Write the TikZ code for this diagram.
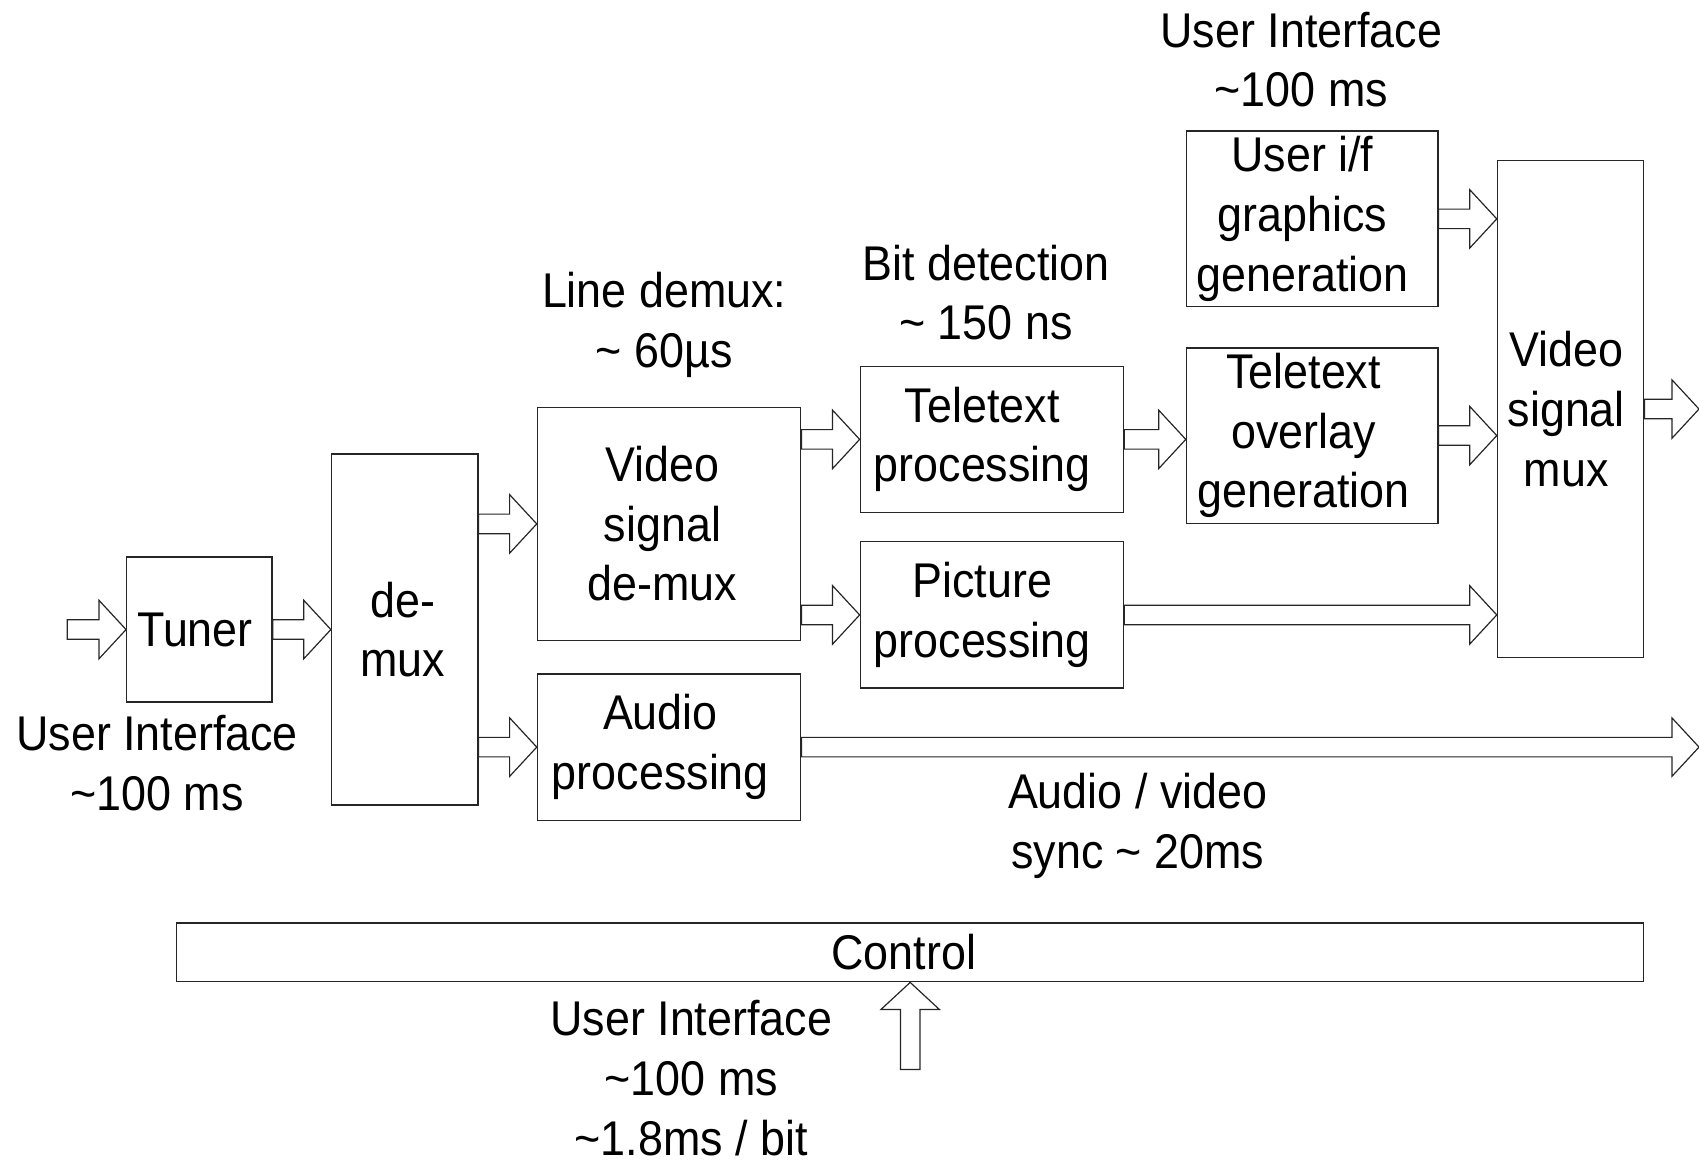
\documentclass[tikz,border=0pt]{standalone}
\usepackage{fontspec}
\setmainfont{Liberation Sans}[FakeStretch=0.92]
\usetikzlibrary{calc}

% hollow block arrow from #1 to #2
\newcommand{\fatarrow}[2]{%
  \coordinate (fh) at ($#2!25pt!#1$);
  \draw[fat] ($#1!9pt!90:#2$) -- ($(fh)!9pt!-90:#1$) -- ($(fh)!27pt!-90:#1$) -- #2
    -- ($(fh)!27pt!90:#1$) -- ($(fh)!9pt!90:#1$) -- ($#1!9pt!-90:#2$) -- cycle;}

\begin{document}
\begin{tikzpicture}[x=1pt,y=-1pt,
    every node/.style={font=\fontsize{45}{55}\selectfont},
    blk/.style={draw=black!85,line width=1.3pt,inner sep=0pt},
    lbl/.style={align=center,inner sep=0pt},
    fat/.style={draw=black!85,line width=1.1pt,fill=white,line join=miter}]
    \useasboundingbox (0,0) rectangle (1568,1074);
    % blocks
    \node[blk,minimum width=134,minimum height=134,
      label={[lbl,xshift=-4]center:Tuner}] (tuner) at (184,581) {};
    \node[blk,minimum width=135,minimum height=324,
      label={[lbl,xshift=-2]center:{de-\\mux}}] (demux) at (373.5,581) {};
    \node[blk,minimum width=243,minimum height=215,
      label={[lbl,xshift=-6]center:{Video\\signal\\de-mux}}] (vsdemux) at (617.5,483.5) {};
    \node[blk,minimum width=243,minimum height=135,
      label={[lbl,xshift=-8]center:{Audio\\processing}}] (audio) at (617.5,689.5) {};
    \node[blk,minimum width=243,minimum height=135,
      label={[lbl,xshift=-9]center:{Teletext\\processing}}] (ttproc) at (915.5,405.5) {};
    \node[blk,minimum width=243,minimum height=135,
      label={[lbl,xshift=-9]center:{Picture\\processing}}] (picture) at (915.5,567.5) {};
    \node[blk,minimum width=232,minimum height=162,
      label={[lbl,xshift=-9]center:{User i/f\\graphics\\generation}}] (uigfx) at (1211,202) {};
    \node[blk,minimum width=232,minimum height=162,
      label={[lbl,xshift=-8]center:{Teletext\\overlay\\generation}}] (overlay) at (1211,402) {};
    \node[blk,minimum width=135,minimum height=459,
      label={[lbl,xshift=-4]center:{Video\\signal\\mux}}] (mux) at (1449.5,377.5) {};
    \node[blk,minimum width=1354,minimum height=54,
      label={[lbl,xshift=-6]center:Control}] (control) at (840,879) {};
    % timing labels
    \node[lbl] (uitop) at (1201,55) {User Interface\\\textasciitilde100 ms};
    \node[lbl] (bitdet) at (910,270) {Bit detection\\\textasciitilde{} 150 ns};
    \node[lbl] (linedemux) at (613,300) {Line demux:\\\textasciitilde{} 60µs};
    \node[lbl] (uileft) at (145,704) {User Interface\\\textasciitilde100 ms};
    \node[lbl] (avsync) at (1050,762) {Audio / video\\sync \textasciitilde{} 20ms};
    \node[lbl] (uictl) at (638,995) {User Interface\\\textasciitilde100 ms\\\textasciitilde1.8ms / bit};
    % free ends
    \coordinate (in) at (62,581);
    \coordinate (out) at (1568,0);
    \coordinate (ctlin) at (840,987);
    % arrows
    \fatarrow{(in)}{(tuner.west)}
    \fatarrow{(tuner.east)}{(demux.west)}
    \fatarrow{(demux.east |- vsdemux.west)}{(vsdemux.west)}
    \fatarrow{(demux.east |- audio.west)}{(audio.west)}
    \fatarrow{(vsdemux.east |- ttproc.west)}{(ttproc.west)}
    \fatarrow{(vsdemux.east |- picture.west)}{(picture.west)}
    \fatarrow{(ttproc.east)}{(overlay.west |- ttproc.east)}
    \fatarrow{(uigfx.east)}{(mux.west |- uigfx.east)}
    \fatarrow{(overlay.east)}{(mux.west |- overlay.east)}
    \fatarrow{(picture.east)}{(mux.west |- picture.east)}
    \fatarrow{(mux.east)}{(out |- mux.east)}
    \fatarrow{(audio.east)}{(out |- audio.east)}
    \fatarrow{(ctlin)}{(control.south)}
\end{tikzpicture}
\end{document}
